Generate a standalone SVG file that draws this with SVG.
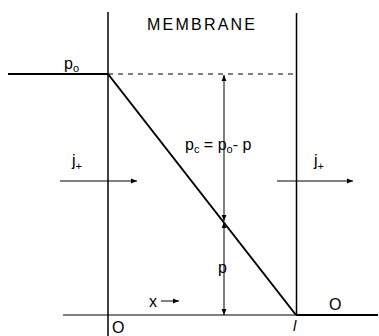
<svg xmlns="http://www.w3.org/2000/svg" width="379" height="336" viewBox="0 0 379 336">
<style>
text{font-family:"Liberation Sans",Arial,sans-serif;fill:#000}
.t{font-size:16px}
.s{font-size:11px}
.thin{stroke:#000;stroke-width:1;fill:none}
.thick{stroke:#000;stroke-width:2;fill:none}
</style>
<defs>
<marker id="ah" viewBox="0 0 10 10" refX="10" refY="5" markerWidth="7" markerHeight="6" orient="auto-start-reverse" markerUnits="userSpaceOnUse">
<path d="M0,1 L10,5 L0,9 Z" fill="#000"/>
</marker>
</defs>
<rect width="379" height="336" fill="#fff"/>
<g id="membrane">
<line class="thick" x1="108" y1="12" x2="108" y2="336" style="stroke-width:1.5"/>
<line class="thick" x1="296.5" y1="13" x2="296.5" y2="315" style="stroke-width:1.5"/>
<text x="147" y="30" style="font-size:16px" textLength="108" lengthAdjust="spacing">MEMBRANE</text>
</g>
<g id="profile">
<line class="thick" x1="8" y1="74" x2="108" y2="74"/>
<line class="thin" x1="108" y1="74" x2="296" y2="74" stroke-dasharray="5,5"/>
<line class="thick" x1="108" y1="74" x2="296" y2="315"/>
<line class="thin" x1="63" y1="315" x2="296" y2="315"/>
<line class="thick" x1="296" y1="315" x2="378" y2="315"/>
</g>
<g id="connectors">
<line class="thin" x1="224" y1="75" x2="224" y2="221" marker-start="url(#ah)" marker-end="url(#ah)"/>
<line class="thin" x1="224" y1="222" x2="224" y2="315" marker-start="url(#ah)" marker-end="url(#ah)"/>
<line class="thin" x1="60" y1="181" x2="137" y2="181" marker-end="url(#ah)"/>
<line class="thin" x1="277" y1="181" x2="353" y2="181" marker-end="url(#ah)"/>
<line class="thin" x1="161" y1="301" x2="179" y2="301" marker-end="url(#ah)"/>
</g>
<g id="labels">
<text class="t" x="64" y="69">p<tspan class="s" dy="3">o</tspan></text>
<text class="t" x="72" y="166">j<tspan class="s" dy="4">+</tspan></text>
<text class="t" x="314" y="166">j<tspan class="s" dy="4">+</tspan></text>
<text class="t" x="185" y="150">p<tspan class="s" dy="3">c</tspan><tspan dy="-3"> = p</tspan><tspan class="s" dy="3">o</tspan><tspan dy="-3">- p</tspan></text>
<text class="t" x="218" y="273">p</text>
<text class="t" x="149" y="307">x</text>
<text class="t" x="112" y="333">O</text>
<text class="t" x="329" y="310">O</text>
<text x="293" y="331" style="font-size:15px;font-style:italic">l</text>
</g>
</svg>
